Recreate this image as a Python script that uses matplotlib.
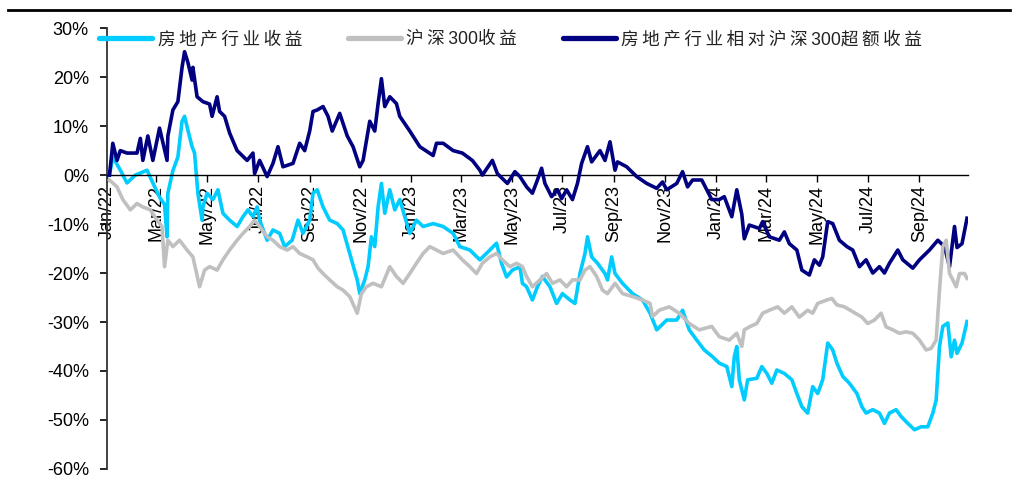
import matplotlib
matplotlib.use("Agg")
import matplotlib.pyplot as plt
import matplotlib.dates as mdates
from matplotlib.lines import Line2D
from matplotlib.ticker import FuncFormatter, MultipleLocator
import pandas as pd

plt.rcParams['font.family'] = ['Liberation Sans', 'Noto Sans CJK SC', 'DejaVu Sans']
plt.rcParams['axes.unicode_minus'] = False

# 房地产行业收益 (%)
house_dates = ["2022-01-04", "2022-01-08", "2022-01-17", "2022-01-25", "2022-02-04", "2022-02-18",
               "2022-02-25", "2022-03-05", "2022-03-11", "2022-03-14", "2022-03-15", "2022-03-21",
               "2022-03-27", "2022-04-01", "2022-04-04", "2022-04-08", "2022-04-13", "2022-04-16",
               "2022-04-20", "2022-04-25", "2022-04-26", "2022-05-01", "2022-05-08", "2022-05-14",
               "2022-05-20", "2022-05-28", "2022-06-06", "2022-06-13", "2022-06-19", "2022-06-25",
               "2022-06-30", "2022-07-03", "2022-07-12", "2022-07-19", "2022-07-27", "2022-08-02",
               "2022-08-11", "2022-08-18", "2022-08-24", "2022-09-01", "2022-09-05", "2022-09-10",
               "2022-09-17", "2022-09-25", "2022-10-04", "2022-10-11", "2022-10-19", "2022-10-28",
               "2022-10-31", "2022-11-06", "2022-11-10", "2022-11-14", "2022-11-18", "2022-11-22",
               "2022-11-26", "2022-11-30", "2022-12-06", "2022-12-12", "2022-12-18", "2022-12-24",
               "2022-12-30", "2023-01-07", "2023-01-15", "2023-01-27", "2023-02-08", "2023-02-20",
               "2023-02-28", "2023-03-12", "2023-03-24", "2023-04-05", "2023-04-13", "2023-04-19",
               "2023-04-25", "2023-05-02", "2023-05-11", "2023-05-14", "2023-05-19", "2023-05-26",
               "2023-06-01", "2023-06-07", "2023-06-16", "2023-06-24", "2023-07-01", "2023-07-10",
               "2023-07-16", "2023-07-22", "2023-07-28", "2023-07-31", "2023-08-05", "2023-08-12",
               "2023-08-21", "2023-08-24", "2023-08-29", "2023-09-02", "2023-09-11", "2023-09-23",
               "2023-10-05", "2023-10-14", "2023-10-22", "2023-11-03", "2023-11-15", "2023-11-22",
               "2023-11-30", "2023-12-09", "2023-12-18", "2023-12-28", "2024-01-05", "2024-01-14",
               "2024-01-20", "2024-01-23", "2024-01-26", "2024-01-29", "2024-02-04", "2024-02-08",
               "2024-02-19", "2024-02-25", "2024-03-02", "2024-03-08", "2024-03-14", "2024-03-23",
               "2024-04-01", "2024-04-07", "2024-04-13", "2024-04-20", "2024-04-26", "2024-05-02",
               "2024-05-08", "2024-05-14", "2024-05-20", "2024-05-25", "2024-06-01", "2024-06-09",
               "2024-06-18", "2024-06-24", "2024-06-29", "2024-07-07", "2024-07-15", "2024-07-21",
               "2024-07-27", "2024-08-04", "2024-08-10", "2024-08-18", "2024-08-26", "2024-09-03",
               "2024-09-11", "2024-09-17", "2024-09-21", "2024-09-25", "2024-09-29", "2024-10-05",
               "2024-10-09", "2024-10-13", "2024-10-16", "2024-10-22", "2024-10-28"]
house_ret = [0, 3.7, 1, -1.6, 0, 1, -1.6, -4.5, -6, -12.6, -3.7, 0.9, 3.7, 11, 12, 9.2, 5.8, 4.5,
             -3.7, -9.2, -6.5, -3.7, -5, -3, -7.8, -9.2, -10.5, -8.5, -7.1, -8.5, -6.5, -9.2, -13.3,
             -11.2, -11.9, -14.6, -13.3, -9.2, -11.9, -9.2, -3.7, -3, -6.5, -9.2, -9.9, -11.2, -16,
             -21.4, -24.2, -21.4, -18.7, -12.6, -14.6, -6.5, -1.7, -7.8, -3, -7.1, -5, -8.5, -11.9,
             -9.2, -10.5, -9.9, -10.5, -11.9, -14.6, -15.3, -17.3, -15.3, -13.9, -18, -20.8, -19.4,
             -18.7, -22.1, -22.8, -25.5, -22.8, -20.7, -22.8, -26.2, -24.2, -25.5, -26.2, -20.1, -16,
             -12.6, -16.7, -18, -20.1, -21.4, -16.7, -20.1, -22.1, -24.2, -25.5, -28.2, -31.6, -29.6,
             -29.6, -27.6, -31.6, -33.7, -35.7, -37.1, -38.4, -39.1, -43.2, -37.1, -35, -41.8, -45.9,
             -41.8, -41.5, -39.1, -40.5, -42.5, -39.8, -40.5, -41.8, -44.6, -47.3, -48.6, -43.2,
             -44.6, -41.8, -34.3, -35.7, -38.4, -41.1, -42.5, -44.6, -47.3, -48.6, -47.9, -48.6,
             -50.7, -48.6, -47.9, -49.3, -50.7, -52, -51.4, -51.4, -48.6, -45.9, -35, -30.9, -30.2,
             -37.1, -33.7, -36.4, -34.3, -29.9]

# 沪深300收益 (%)
hs300_dates = ["2022-01-04", "2022-01-13", "2022-01-20", "2022-01-29", "2022-02-06", "2022-02-13",
               "2022-02-22", "2022-03-02", "2022-03-08", "2022-03-11", "2022-03-15", "2022-03-21",
               "2022-03-29", "2022-04-07", "2022-04-14", "2022-04-22", "2022-04-28", "2022-05-04",
               "2022-05-13", "2022-05-20", "2022-05-28", "2022-06-06", "2022-06-13", "2022-06-21",
               "2022-06-27", "2022-07-03", "2022-07-12", "2022-07-19", "2022-07-27", "2022-08-05",
               "2022-08-12", "2022-08-20", "2022-08-29", "2022-09-05", "2022-09-11", "2022-09-17",
               "2022-09-25", "2022-10-04", "2022-10-11", "2022-10-19", "2022-10-28", "2022-11-02",
               "2022-11-08", "2022-11-16", "2022-11-26", "2022-12-06", "2022-12-14", "2022-12-22",
               "2022-12-30", "2023-01-07", "2023-01-15", "2023-01-23", "2023-01-31", "2023-02-08",
               "2023-02-20", "2023-03-03", "2023-03-12", "2023-03-20", "2023-03-27", "2023-04-05",
               "2023-04-13", "2023-04-20", "2023-04-29", "2023-05-07", "2023-05-14", "2023-05-19",
               "2023-05-26", "2023-06-04", "2023-06-12", "2023-06-19", "2023-06-28", "2023-07-06",
               "2023-07-13", "2023-07-22", "2023-07-28", "2023-08-03", "2023-08-11", "2023-08-18",
               "2023-08-24", "2023-09-02", "2023-09-11", "2023-09-23", "2023-10-05", "2023-10-14",
               "2023-10-17", "2023-10-25", "2023-11-06", "2023-11-18", "2023-11-30", "2023-12-12",
               "2023-12-27", "2024-01-05", "2024-01-17", "2024-01-26", "2024-02-01", "2024-02-04",
               "2024-02-10", "2024-02-19", "2024-02-26", "2024-03-05", "2024-03-15", "2024-03-23",
               "2024-04-01", "2024-04-10", "2024-04-20", "2024-04-26", "2024-05-02", "2024-05-13",
               "2024-05-19", "2024-05-25", "2024-06-03", "2024-06-13", "2024-06-24", "2024-07-01",
               "2024-07-09", "2024-07-17", "2024-07-23", "2024-07-31", "2024-08-08", "2024-08-16",
               "2024-08-24", "2024-09-01", "2024-09-09", "2024-09-15", "2024-09-21", "2024-09-25",
               "2024-09-29", "2024-10-03", "2024-10-07", "2024-10-11", "2024-10-15", "2024-10-19",
               "2024-10-25", "2024-10-28"]
hs300_ret = [-1, -2.4, -5, -7.1, -5.8, -6.5, -7.1, -9.2, -10.5, -18.7, -13.3, -14.6, -13.3, -15.3,
             -16.7, -22.8, -19.4, -18.7, -19.4, -17.3, -15.3, -13.3, -11.9, -10.5, -9.2, -10.5,
             -12.6, -13.3, -14.6, -15.3, -14.6, -16, -16.7, -17.3, -19, -20.1, -21.4, -22.8, -23.5,
             -24.8, -28.2, -24.2, -22.8, -22.1, -22.8, -18.7, -20.7, -22.1, -20.1, -18, -16, -14.6,
             -15.3, -16, -15.3, -17.3, -18.7, -20.1, -18, -16.7, -16, -17.3, -18.7, -18, -18.7,
             -20.7, -22.8, -21.4, -20.1, -22.1, -21.4, -22.8, -21.4, -21.4, -19.4, -18.7, -20.7,
             -23.5, -24.2, -22.1, -24.2, -24.8, -25.5, -26.2, -28.9, -27.6, -26.9, -28.2, -30.3,
             -31.6, -30.9, -33, -33.7, -32.3, -35, -31.6, -31, -30.3, -28.2, -27.6, -26.9, -28.2,
             -26.9, -29, -27.6, -28.2, -26.2, -25.5, -25.2, -26.5, -26.9, -27.9, -29, -30.3, -29.6,
             -28.2, -31, -31.6, -32.3, -32, -32.3, -33.7, -35.7, -35.4, -33.7, -23.5, -14.6, -13.3,
             -20.1, -21.4, -22.8, -20.1, -20.1, -21.1]

# 房地产行业相对沪深300超额收益 (%)
excess_dates = ["2022-01-04", "2022-01-08", "2022-01-13", "2022-01-17", "2022-01-25", "2022-02-06",
                "2022-02-10", "2022-02-13", "2022-02-19", "2022-02-25", "2022-03-05", "2022-03-14",
                "2022-03-15", "2022-03-21", "2022-03-27", "2022-04-01", "2022-04-04", "2022-04-08",
                "2022-04-13", "2022-04-14", "2022-04-19", "2022-04-26", "2022-05-04", "2022-05-07",
                "2022-05-13", "2022-05-16", "2022-05-22", "2022-05-28", "2022-06-06", "2022-06-18",
                "2022-06-25", "2022-06-27", "2022-07-03", "2022-07-12", "2022-07-19", "2022-07-25",
                "2022-07-31", "2022-08-12", "2022-08-20", "2022-08-26", "2022-09-01", "2022-09-05",
                "2022-09-10", "2022-09-17", "2022-09-23", "2022-09-28", "2022-10-07", "2022-10-16",
                "2022-10-23", "2022-10-31", "2022-11-04", "2022-11-12", "2022-11-18", "2022-11-22",
                "2022-11-26", "2022-11-30", "2022-12-06", "2022-12-14", "2022-12-18", "2022-12-30",
                "2023-01-11", "2023-01-27", "2023-01-31", "2023-02-08", "2023-02-20", "2023-03-03",
                "2023-03-15", "2023-03-24", "2023-03-27", "2023-04-08", "2023-04-14", "2023-04-26",
                "2023-05-05", "2023-05-11", "2023-05-19", "2023-05-26", "2023-06-01", "2023-06-06",
                "2023-06-10", "2023-06-18", "2023-06-25", "2023-06-30", "2023-07-06", "2023-07-13",
                "2023-07-19", "2023-07-24", "2023-07-31", "2023-08-05", "2023-08-15", "2023-08-21",
                "2023-08-27", "2023-09-02", "2023-09-05", "2023-09-16", "2023-09-28", "2023-10-10",
                "2023-10-22", "2023-10-29", "2023-11-03", "2023-11-15", "2023-11-22", "2023-11-28",
                "2023-12-04", "2023-12-15", "2023-12-21", "2023-12-27", "2024-01-05", "2024-01-11",
                "2024-01-20", "2024-01-26", "2024-02-01", "2024-02-04", "2024-02-10", "2024-02-22",
                "2024-02-26", "2024-03-05", "2024-03-17", "2024-03-23", "2024-03-29", "2024-04-07",
                "2024-04-13", "2024-04-22", "2024-04-28", "2024-05-04", "2024-05-08", "2024-05-14",
                "2024-05-20", "2024-05-28", "2024-06-06", "2024-06-13", "2024-06-21", "2024-06-29",
                "2024-07-07", "2024-07-15", "2024-07-21", "2024-07-27", "2024-08-06", "2024-08-12",
                "2024-08-24", "2024-09-01", "2024-09-13", "2024-09-23", "2024-10-01", "2024-10-07",
                "2024-10-13", "2024-10-16", "2024-10-22", "2024-10-28"]
excess_ret = [0, 6.5, 3, 5, 4.5, 4.5, 7.5, 3, 8, 3, 9.6, 3, 8, 13.3, 15, 22, 25.2, 23, 19.4, 22,
              16, 15, 14.5, 12, 16, 13, 12, 8.6, 5, 3, 4.5, 0.3, 3, -0.3, 2.4, 5.8, 1.7, 2.4, 6.5,
              5, 9, 13, 13.3, 14, 12, 9, 12.6, 8, 5.8, 1.7, 3, 11, 9, 14.6, 19.7, 14, 16, 14.6, 12,
              9, 5.8, 4, 6.5, 6.5, 5, 4.5, 3, 1, 0, 3, 0.3, -1.7, 0.7, -0.3, -2.4, -3.7, -1, 1.4,
              -1.7, -4.4, -3, -4.8, -3, -5, -1.7, 2.4, 5.8, 2.7, 5, 3, 6.8, 1, 2.7, 1.7, -0.3, -1.7,
              -2.7, -1.4, -3, -1.7, 0.7, -2.4, -1, -1, -3, -5, -5, -4.4, -8.5, -3, -8, -13, -10.2,
              -10.9, -9.5, -12.6, -13.3, -11.6, -14, -15.3, -19.4, -20.4, -17.3, -18.4, -16.7, -9.5,
              -9.9, -13.3, -14.6, -15.3, -18.7, -17.3, -20, -18.7, -20, -18, -15.3, -17.3, -19,
              -17.3, -15.3, -13.3, -14.6, -18.7, -10.5, -14.8, -14, -8.8]

# legend texts, with thin spaces between the Chinese characters like the original
labels = ["房\u2009地\u2009产\u2009行\u2009业\u2009收\u2009益",
          "沪\u2009深\u2009300收\u2009益",
          "房\u2009地\u2009产\u2009行\u2009业\u2009相\u2009对\u2009沪\u2009深\u2009300超\u2009额\u2009收\u2009益"]
colors = ["#00CCFF", "#C0C0C0", "#000080"]

fig = plt.figure(figsize=(10.14, 4.78), dpi=100)
ax = fig.add_axes([0.1055, 0.019, 0.849, 0.922])

lw = 2.6
ax.plot(pd.to_datetime(house_dates), house_ret, color=colors[0], lw=lw, label=labels[0], zorder=2)
ax.plot(pd.to_datetime(hs300_dates), hs300_ret, color=colors[1], lw=lw, label=labels[1], zorder=4)
ax.plot(pd.to_datetime(excess_dates), excess_ret, color=colors[2], lw=lw, label=labels[2], zorder=3)

ax.set_ylim(-60, 30)
ax.set_xlim(pd.Timestamp("2022-01-01"), pd.Timestamp("2024-10-29"))
ax.yaxis.set_major_locator(MultipleLocator(10))
ax.yaxis.set_major_formatter(FuncFormatter(lambda v, p: f"{v:.0f}%"))
ax.xaxis.set_major_locator(mdates.MonthLocator(bymonth=[1, 3, 5, 7, 9, 11]))
ax.xaxis.set_major_formatter(mdates.DateFormatter("%b/%y"))

for s in ["top", "right"]:
    ax.spines[s].set_visible(False)
ax.spines["bottom"].set_position(("data", 0))
ax.spines["bottom"].set_linewidth(1.0)
ax.spines["left"].set_linewidth(1.3)
ax.spines["left"].set_color("#333333")

ax.tick_params(axis="y", direction="out", length=5, width=1.2, pad=8, labelsize=13)
ax.tick_params(axis="x", direction="out", length=5, width=1.0, pad=2, labelsize=13)
for t in ax.get_xticklabels():
    t.set_rotation(90)
    t.set_ha("center")
    t.set_va("top")

leg = ax.legend(loc="upper left", bbox_to_anchor=(0.098, 0.935), bbox_transform=fig.transFigure,
                ncol=3, frameon=False, fontsize=12.7, handlelength=3.0, handletextpad=0.3,
                columnspacing=2.6, borderpad=0, borderaxespad=0)
for h in leg.get_lines():
    h.set_linewidth(3.8)
    h.set_solid_capstyle("round")
for t in leg.get_texts():
    t.set_color("#222222")

fig.add_artist(Line2D([8 / 1014, 1010 / 1014], [1 - 10 / 478, 1 - 10 / 478],
                      transform=fig.transFigure, color="black", lw=2))

fig.savefig("out.png", dpi=100)
